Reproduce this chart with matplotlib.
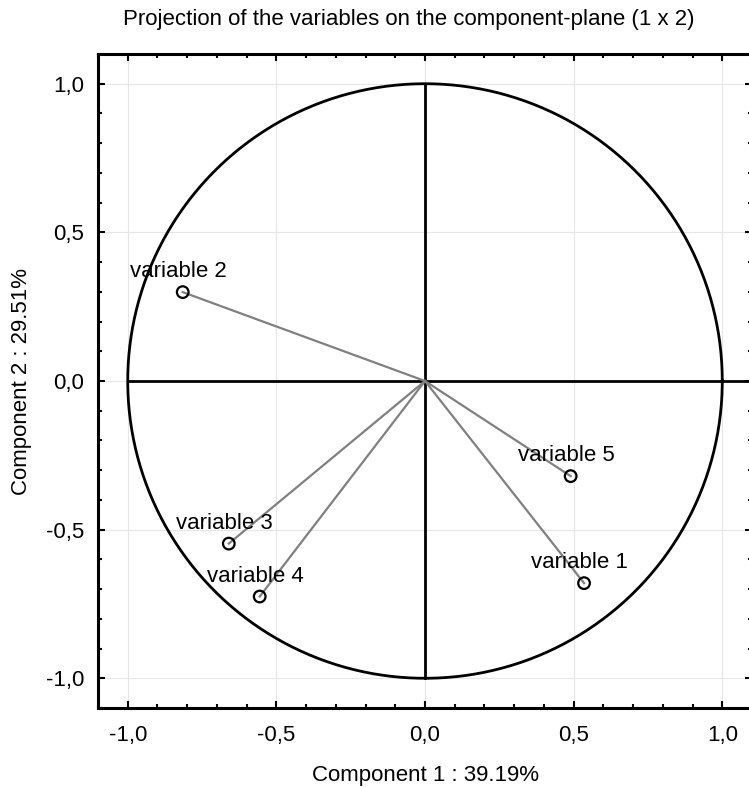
import numpy as np
import matplotlib.pyplot as plt
from matplotlib.ticker import MultipleLocator, FuncFormatter

plt.rcParams['font.family'] = ['Liberation Sans', 'DejaVu Sans']

names = ["variable 1", "variable 2", "variable 3", "variable 4", "variable 5"]
comp1 = [0.535, -0.815, -0.66, -0.556, 0.49]
comp2 = [-0.68, 0.299, -0.547, -0.725, -0.32]

fig = plt.figure(figsize=(7.49, 7.87), dpi=100)
ax = fig.add_axes([98/749, 1 - 708/787, 654/749, 654/787])

# unit circle and cross
t = np.linspace(0, 2*np.pi, 400)
ax.plot(np.cos(t), np.sin(t), color='black', lw=2, zorder=3)
ax.plot([-1, 1.1], [0, 0], color='black', lw=2, zorder=3)
ax.plot([0, 0], [-1, 1], color='black', lw=2, zorder=3)

for x, y, n in zip(comp1, comp2, names):
    ax.plot([0, x], [0, y], color='#808080', lw=1.6, zorder=4)
    ax.annotate(n, (x, y), xytext=(-3, 7), textcoords='offset points',
                ha='center', va='bottom', fontsize=16, zorder=6)
ax.scatter(comp1, comp2, s=70, facecolors='none', edgecolors='black',
           linewidths=1.6, zorder=5)

ax.set_xlim(-1.1, 1.1)
ax.set_ylim(-1.1, 1.1)
ax.xaxis.set_major_locator(MultipleLocator(0.5))
ax.yaxis.set_major_locator(MultipleLocator(0.5))
ax.xaxis.set_minor_locator(MultipleLocator(0.1))
ax.yaxis.set_minor_locator(MultipleLocator(0.1))
fmt = FuncFormatter(lambda v, p: ("%.1f" % v).replace('.', ','))
ax.xaxis.set_major_formatter(fmt)
ax.yaxis.set_major_formatter(fmt)
ax.tick_params(which='both', direction='in', top=True, right=True,
               labelsize=16, width=1.5)
ax.tick_params(axis='x', pad=12)
ax.tick_params(axis='y', pad=10)
ax.tick_params(which='major', length=5)
ax.tick_params(which='minor', length=3)
ax.grid(True, which='major', color='#e6e6e6', lw=0.8, zorder=0)
for s in ax.spines.values():
    s.set_linewidth(2.2)

fig.text(425/749, 1 - 775/787, "Component 1 : 39.19%", ha='center', va='center', fontsize=16)
ax.set_ylabel("Component 2 : 29.51%", fontsize=16, labelpad=10)
fig.text(409/749, 1 - 19/787, "Projection of the variables on the component-plane (1 x 2)",
         ha='center', va='center', fontsize=16)

fig.savefig("out.png", dpi=100)
